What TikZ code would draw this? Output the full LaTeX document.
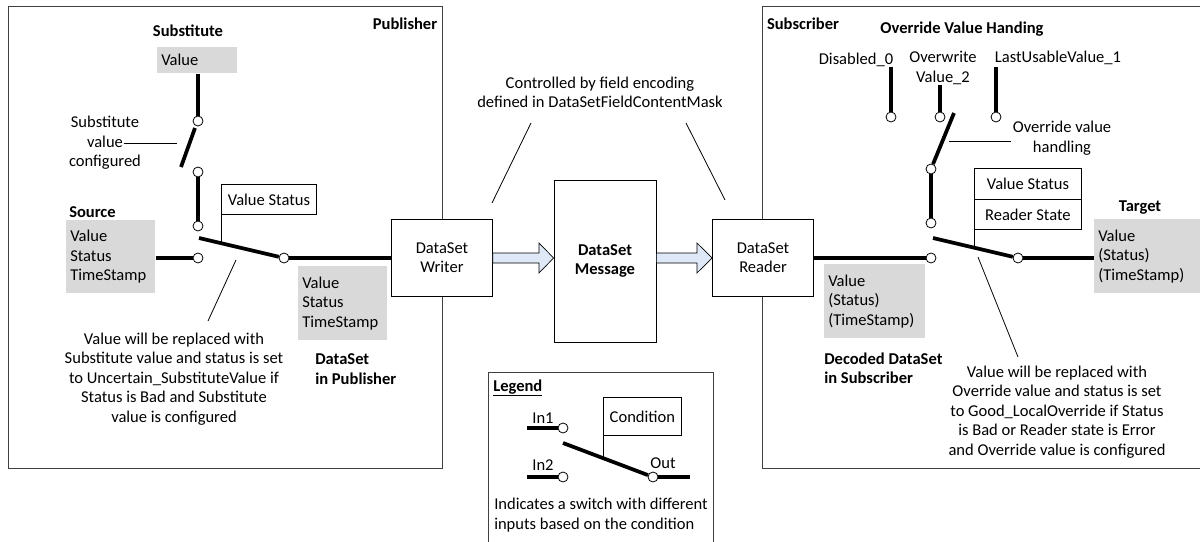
\documentclass[tikz,border=0pt]{standalone}
\usepackage{fontspec}
\setmainfont{Carlito}
\usetikzlibrary{calc}
\definecolor{arrowfill}{RGB}{222,232,246}
\definecolor{framegray}{RGB}{64,64,64}
\tikzset{
  frame/.style={draw=framegray,line width=0.75pt},
  thin/.style={draw=black,line width=0.6pt},
  wire/.style={draw=black,line width=2.8pt},
  pin/.style={circle,draw=black,fill=white,line width=0.6pt,inner sep=0pt,minimum size=7.5pt},
  graybox/.style={fill=gray!30,anchor=north west,align=left,inner xsep=3pt},
  condbox/.style={draw=black,fill=white,line width=0.6pt,anchor=north west,align=center},
  block/.style={draw=black,fill=white,line width=0.6pt,align=center},
  lbl/.style={align=center,inner sep=0pt},
  flow/.style={draw=black,fill=arrowfill,line width=0.5pt,line join=miter}
}
\begin{document}
\begin{tikzpicture}[x=0.75pt,y=-0.75pt,font=\fontsize{12.4}{14.6}\selectfont]
\useasboundingbox (0,0) rectangle (1200,542);
\clip (0,0) rectangle (1200,542);
\fill[white] (0,0) rectangle (1200,542);
% Drawing frames
\draw[frame] (8,7) rectangle (442,468);
\draw[frame] (1210,7) -- (762,7) -- (762,468) -- (1210,468);
\draw[frame] (488,548) -- (488,372) -- (713,372) -- (713,548);
% Publisher: substitute switch
\node[lbl] (pubtitle) at (405,24) {\textbf{Publisher}};
\node[lbl] (subtitle) at (188,31) {\textbf{Substitute}};
\node[graybox,text width=54pt,minimum height=19.5pt] (subval) at (157,47) {Value};
\node[pin] (sp1) at (198,121) {};
\node[pin] (sp2) at (198,172) {};
\node[pin] (sp3) at (198,226) {};
\draw[wire] (subval.south -| sp1) -- (sp1);
\draw[wire] (181,167) -- (195,128);
\draw[wire] (sp2) -- (sp3);
\node[lbl] (sublbl) at (105,143) {Substitute\\value\\configured};
\coordinate (subtick) at (124,143);
\draw[thin] (subtick) -- (177,143);
% Publisher: status switch
\node[lbl,anchor=west] (srctitle) at (69,212) {\textbf{Source}};
\node[graybox,text width=60.75pt,minimum height=54.75pt] (src) at (66,220) {Value\\Status\\TimeStamp};
\node[condbox,minimum width=71.25pt,minimum height=22.5pt] (pubcond) at (221,184) {Value Status};
\node[pin] (pin) at (198,258) {};
\node[pin] (pout) at (284,258) {};
\draw[wire] (src.east |- pin) -- (pin);
\draw[wire] (199,238) -- (pout);
\draw[thin] (pubcond.south west) -- (221,243);
\node[graybox,text width=60.75pt,minimum height=55.5pt] (pubds) at (298,266) {Value\\Status\\TimeStamp};
\node[lbl,anchor=west,align=left] (pubdslbl) at (315,369) {\textbf{DataSet}\\\textbf{in Publisher}};
\coordinate (pubnote) at (236,260);
\node[lbl] (pubnotetxt) at (174,379) {Value will be replaced with\\Substitute value and status is set\\to Uncertain\_SubstituteValue if\\Status is Bad and Substitute\\value is configured};
\draw[thin] (pubnote) -- (208,321);
% Writer, message, reader
\node[block,minimum width=75.75pt,minimum height=57.75pt] (writer) at (442,257.5) {DataSet\\Writer};
\node[block,minimum width=76.5pt,minimum height=121.5pt] (message) at (605,261) {\textbf{DataSet}\\\textbf{Message}};
\node[block,minimum width=75.75pt,minimum height=57.75pt] (reader) at (763,257.5) {DataSet\\Reader};
\draw[wire] (pout) -- (writer.west |- pout);
\draw[flow] (writer.east |- 0,253) -- (539,253) -- (539,243) -- (message.west |- 0,258)
  -- (539,273) -- (539,263) -- (writer.east |- 0,263) -- cycle;
\draw[flow] (message.east |- 0,253) -- (697,253) -- (697,243) -- (reader.west |- 0,258)
  -- (697,273) -- (697,263) -- (message.east |- 0,263) -- cycle;
\node[lbl] (masknote) at (600,92.5) {Controlled by field encoding\\defined in DataSetFieldContentMask};
\draw[thin] (531,123) -- (492,203);
\draw[thin] (686,123) -- (725,200);
% Legend
\node[lbl,anchor=west] (legtitle) at (493,388) {\underline{\textbf{Legend}}};
\node[condbox,minimum width=58.5pt,minimum height=28.5pt] (legcond) at (603,397) {Condition};
\node[pin] (lin1) at (563,428) {};
\node[pin] (lin2) at (563,477) {};
\node[pin] (lout) at (653,477) {};
\draw[wire] (527,428) -- (lin1);
\draw[wire] (527,477) -- (lin2);
\draw[wire] (lout) -- (690,477);
\draw[wire] (563,443) -- (lout);
\draw[thin] (legcond.south west) -- (603,458);
\node[lbl] (in1lbl) at (543,418) {In1};
\node[lbl] (in2lbl) at (543,465) {In2};
\node[lbl] (outlbl) at (663,463) {Out};
\node[lbl,anchor=west,align=left] (legnote) at (494,515) {Indicates a switch with different\\inputs based on the condition};
% Subscriber: override value handling
\node[lbl] (subscrtitle) at (803,24) {\textbf{Subscriber}};
\node[lbl] (ovhtitle) at (962,29) {\textbf{Override Value Handing}};
\node[lbl] (dis0) at (856,60) {Disabled\_0};
\node[lbl] (ovw2) at (943,68) {Overwrite\\Value\_2};
\node[lbl] (lu1) at (1058,58) {LastUsableValue\_1};
\node[pin] (pdis0) at (891,117) {};
\node[pin] (povw2) at (940,117) {};
\node[pin] (plu1) at (996,117) {};
\draw[wire] (891,67) -- (pdis0);
\draw[wire] (940,85) -- (povw2);
\draw[wire] (996,67) -- (plu1);
\node[pin] (op1) at (931,169) {};
\node[pin] (op2) at (931,223) {};
\draw[wire] (op1) -- (954,113);
\draw[wire] (op1) -- (op2);
\coordinate (ovhtick) at (1011,141);
\draw[thin] (949,141) -- (ovhtick);
\node[lbl] (ovhlbl) at (1062,138) {Override value\\handling};
% Subscriber: status switch
\node[condbox,minimum width=80.25pt,minimum height=23.25pt] (subcond) at (974,168) {Value Status};
\node[condbox,minimum width=80.25pt,minimum height=22.5pt] (rdstate) at (974,199) {Reader State};
\node[pin] (sin) at (931,258) {};
\node[pin] (sout) at (1018,258) {};
\draw[wire] (reader.east |- sin) -- (sin);
\draw[wire] (933,238) -- (sout);
\draw[thin] (rdstate.south west) -- (974,247.6);
\node[lbl] (tgttitle) at (1140,208) {\textbf{Target}};
\node[graybox,text width=73.5pt,minimum height=55.5pt] (target) at (1094,219) {Value\\(Status)\\(TimeStamp)};
\draw[wire] (sout) -- (target.west |- sout);
\node[graybox,text width=69.75pt,minimum height=55.5pt] (decoded) at (824,264) {Value\\(Status)\\(TimeStamp)};
\node[lbl,anchor=west,align=left] (decodedlbl) at (824,368.5) {\textbf{Decoded DataSet}\\\textbf{in Subscriber}};
\coordinate (subnote) at (978,257);
\node[lbl] (subnotetxt) at (1057,412) {Value will be replaced with\\Override value and status is set\\to Good\_LocalOverride if Status\\is Bad or Reader state is Error\\and Override value is configured};
\draw[thin] (subnote) -- (1018,357);
% Done
\end{tikzpicture}
\end{document}
